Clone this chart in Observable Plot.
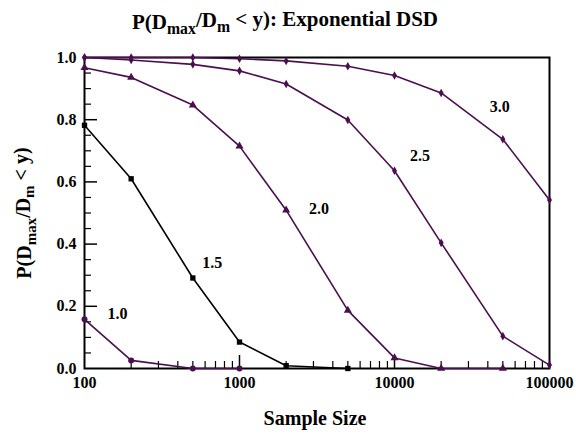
<!DOCTYPE html>
<html><head><meta charset="utf-8">
<script src="https://cdn.jsdelivr.net/npm/d3@7"></script>
<script src="https://cdn.jsdelivr.net/npm/@observablehq/plot@0.6"></script>
<style>
body{margin:0;background:#fff}
</style>
</head><body><div id="chart"></div>
<script>
// ---- data ----
const sampleSizes = [100, 200, 500, 1000, 2000, 5000, 10000, 20000, 50000, 100000];
const p10 = [0.158, 0.026, 0.0, 0.0];
const p15 = [0.782, 0.61, 0.291, 0.085, 0.009, 0.0];
const p20 = [0.967, 0.936, 0.847, 0.715, 0.509, 0.187, 0.034, 0.0, 0.0];
const p25 = [1.0, 0.992, 0.978, 0.957, 0.915, 0.799, 0.636, 0.404, 0.104, 0.011];
const p30 = [1.0, 1.0, 1.0, 0.996, 0.989, 0.972, 0.942, 0.886, 0.737, 0.542];
const curveNames = ["1.0", "1.5", "2.0", "2.5", "3.0"];
const labelX = [163, 667, 3260, 14580, 47700];
const labelY = [0.177, 0.341, 0.512, 0.683, 0.841];
const xTickLabels = [100, 1000, 10000, 100000];
const xMajorTicks = [1000, 10000];
const xMinorTicks = [200,300,400,500,600,700,800,900,2000,3000,4000,5000,6000,7000,8000,9000,20000,30000,40000,50000,60000,70000,80000,90000];
const yTickLabels = [0, 0.2, 0.4, 0.6, 0.8, 1.0];
const yMajorTicks = [0.2, 0.4, 0.6, 0.8];
const yMinorTicks = [0.05,0.1,0.15,0.25,0.3,0.35,0.45,0.5,0.55,0.65,0.7,0.75,0.85,0.9,0.95];

// ---- layout ----
const W = 576, H = 434, mL = 84, mR = 27, mT = 57, mB = 66;
const innerW = W - mL - mR, innerH = H - mT - mB;
const FONT = "Liberation Serif";
const purple = "#4b0f4f";
const seriesValues = [p10, p15, p20, p25, p30];
const seriesStyle = [
  {stroke: purple, symbol: "circle", r: 3},
  {stroke: "#000", symbol: "square", r: 3},
  {stroke: purple, symbol: "triangle", r: 3},
  {stroke: purple, symbol: "diamond", r: 2.6},
  {stroke: purple, symbol: "diamond", r: 2.6}
];

const seriesMarks = seriesValues.flatMap((vals, i) => {
  const rows = vals.map((p, j) => ({n: sampleSizes[j], p}));
  const st = seriesStyle[i];
  return [
    Plot.line(rows, {x: "n", y: "p", stroke: st.stroke, strokeWidth: 1.6}),
    Plot.dot(rows, {x: "n", y: "p", symbol: st.symbol, r: st.r, fill: st.stroke, stroke: "none"})
  ];
});

const labels = curveNames.map((t, i) => ({t, x: labelX[i], y: labelY[i]}));

const chart = Plot.plot({
  width: W, height: H,
  marginLeft: mL, marginRight: mR, marginTop: mT, marginBottom: mB,
  x: {type: "log", domain: [100, 100000]},
  y: {domain: [0, 1]},
  marks: [
    Plot.axisX(xTickLabels, {tickSize: 0, tickPadding: 8, fontSize: 16, tickFormat: d => String(d), label: null}),
    Plot.axisY(yTickLabels, {tickSize: 0, tickPadding: 8, fontSize: 16, tickFormat: d => d.toFixed(1), label: null}),
    Plot.tickX(xMinorTicks, {x: d => d, insetTop: innerH - 7, stroke: "#000", strokeWidth: 1.2}),
    Plot.tickX(xMajorTicks, {x: d => d, insetTop: innerH - 13, stroke: "#000", strokeWidth: 1.5}),
    Plot.tickY(yMinorTicks, {y: d => d, insetRight: innerW - 7, stroke: "#000", strokeWidth: 1.2}),
    Plot.tickY(yMajorTicks, {y: d => d, insetRight: innerW - 13, stroke: "#000", strokeWidth: 1.5}),
    Plot.frame({stroke: "#000", strokeWidth: 2}),
    ...seriesMarks,
    Plot.text(labels, {x: "x", y: "y", text: "t", fontSize: 16, fill: "#000"})
  ]
});

const svg = d3.select(chart);
// Title
const title = svg.append("text").attr("x", 285).attr("y", 29).attr("text-anchor", "middle")
  .attr("font-size", 21).attr("fill", "#000");
title.append("tspan").text("P(D");
title.append("tspan").attr("dy", "0.3em").attr("font-size", "0.75em").text("max");
title.append("tspan").attr("dy", "-0.3em").text("/D");
title.append("tspan").attr("dy", "0.3em").attr("font-size", "0.75em").text("m");
title.append("tspan").attr("dy", "-0.3em").text(" < y): Exponential DSD");
// Y label
const yl = svg.append("text").attr("transform", "translate(31,213) rotate(-90)").attr("text-anchor", "middle")
  .attr("font-size", 20).attr("fill", "#000");
yl.append("tspan").text("P(D");
yl.append("tspan").attr("dy", "0.3em").attr("font-size", "0.75em").text("max");
yl.append("tspan").attr("dy", "-0.3em").text("/D");
yl.append("tspan").attr("dy", "0.3em").attr("font-size", "0.75em").text("m");
yl.append("tspan").attr("dy", "-0.3em").text(" < y)");
// X label
svg.append("text").attr("x", 315).attr("y", 425).attr("text-anchor", "middle")
  .attr("font-size", 20).attr("fill", "#000").text("Sample Size");

// Replace Plot's default sans-serif styling with a bold serif face
svg.selectAll("style").remove();
svg.attr("font-family", FONT).attr("font-weight", "bold").attr("fill", "#000")
   .style("background", "#fff").style("overflow", "visible");
svg.selectAll("g, text").attr("font-family", FONT).attr("font-weight", "bold");

document.getElementById("chart").appendChild(chart);
</script>
</body></html>
